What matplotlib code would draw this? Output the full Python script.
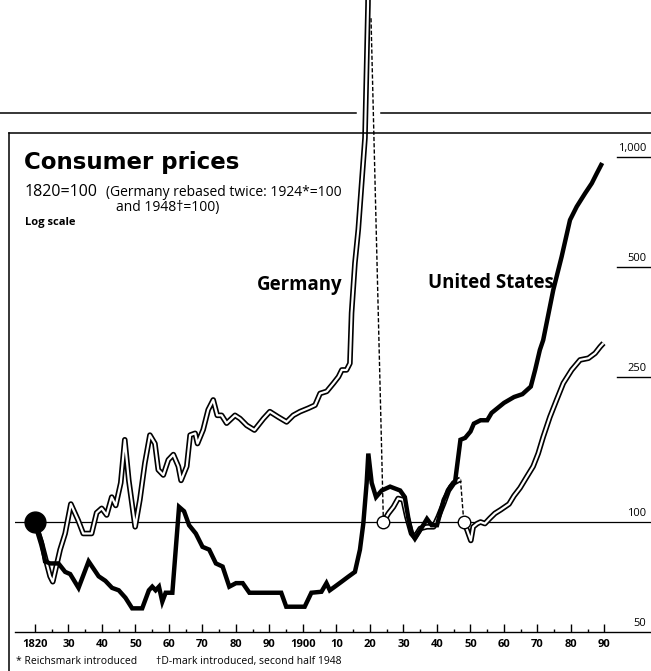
import matplotlib
matplotlib.use("Agg")
import matplotlib.pyplot as plt
import matplotlib.transforms as mtransforms
from matplotlib.lines import Line2D

# --- Datos (1820=100, escala log) ---
us_years = [1820, 1822, 1823, 1824.5, 1827, 1829, 1830.5, 1833, 1836, 1839, 1841, 1843,
            1845, 1847, 1849, 1852, 1854, 1855, 1856, 1857, 1858, 1859, 1861, 1863,
            1864.5, 1866, 1868, 1870, 1872, 1874, 1876, 1878, 1880, 1882, 1884, 1893.5,
            1895, 1900.5, 1902.5, 1905.5, 1907, 1908, 1909.5, 1911.5, 1913.5, 1915.5,
            1917, 1918, 1919, 1919.5, 1920.5, 1921.8, 1923.5, 1926, 1929, 1930.4,
            1931.4, 1932.4, 1933.4, 1935, 1937, 1938.4, 1940, 1942, 1944, 1945.4, 1947,
            1948.4, 1950, 1951, 1953, 1955, 1956.3, 1960, 1963, 1965.5, 1968, 1969.3,
            1970.7, 1971.7, 1972.7, 1974.7, 1977.2, 1979.7, 1981.7, 1984.2, 1986.2,
            1987.7, 1989]
us_values = [100, 88, 78, 77, 77, 73, 72, 66, 78, 71, 69, 66,
             65, 62, 58, 58, 65, 66.5, 65, 66.5, 60.5, 64, 64, 110,
             107, 98, 93, 85.5, 84, 77, 75.5, 66.5, 68, 68, 64, 64,
             58.6, 58.6, 64, 64.4, 68, 65, 66.5, 68.6, 70.8, 73,
             84, 99, 128, 154, 128, 117, 122, 125, 122, 117,
             103, 93, 90, 95, 102, 98, 98, 115, 125, 129, 168,
             170, 177, 186, 190, 190, 199, 212, 220, 224, 235, 261,
             296, 315, 350, 432, 533, 672, 731, 795, 847,
             902, 951]

# Alemania, tramo 1820 - hiperinflacion (se sale del grafico)
de1_years = [1820, 1822, 1824.5, 1825.3, 1827.5, 1829, 1830.7, 1832.9, 1834.4, 1836.9,
             1838.4, 1839.9, 1841.4, 1842.9, 1844.1, 1845.6, 1846.8, 1848, 1849.9,
             1851.3, 1852.8, 1854.3, 1855.8, 1856.8, 1858.3, 1859.8, 1861.3, 1862.8,
             1863.6, 1865.3, 1866.3, 1867.8, 1868.5, 1870.2, 1871.7, 1873.2, 1874.4,
             1875.7, 1877.2, 1879.7, 1881.2, 1883.2, 1885.5, 1888.2, 1890.1, 1892.6,
             1895.1, 1897.1, 1899.1, 1901.6, 1903.6, 1905.1, 1907.1, 1909.1, 1910.6,
             1911.6, 1913, 1914, 1914.5, 1915.5, 1916.5, 1918.5, 1919.4, 1919.6]
de1_values = [100, 87, 71, 68.6, 84, 93, 112, 101, 93, 93,
              106, 109, 104.5, 117, 111, 128, 168, 130, 97,
              115, 145, 173, 164, 139, 134.5, 148, 153, 142,
              130, 142, 173, 175, 164, 179, 203, 216, 196,
              196, 186.5, 196, 192, 184, 178.6, 192, 200.6, 194,
              188, 196, 200.6, 205, 209, 225, 228, 240, 250,
              261, 261, 272, 374, 512, 633, 1128, 2611, 4000]

# Alemania, rebase 1924*=100
de2_years = [1924, 1925.5, 1927, 1928.4, 1929.9, 1931, 1932.4, 1933.4, 1935, 1937,
             1939, 1940.4, 1942, 1943.4, 1945, 1947]
de2_values = [100, 105.6, 110, 116, 115, 103.4, 93, 91, 96, 97,
              97, 103.4, 112.5, 122, 128, 131]

# Alemania, rebase 1948t=100
de3_years = [1948, 1949, 1950.1, 1950.8, 1952, 1953, 1954.3, 1955.8, 1957.3, 1959,
             1961.5, 1963, 1964.8, 1966.8, 1968.7, 1970.2, 1971.7, 1973.7, 1975.7,
             1977.7, 1980.2, 1982.7, 1985.2, 1987.2, 1988.7, 1989.7]
de3_values = [100, 95, 89, 97, 99, 100, 99, 102.4, 105.6, 108,
              112, 118, 124, 133, 142, 154, 171, 194, 216,
              240, 261, 278, 281, 290, 302, 309]

# enlaces discontinuos de los rebases
link1_years = [1920.3, 1924]
link1_values = [2400, 100]
link2_years = [1947, 1948]
link2_values = [131, 100]
rebase_years = [1924, 1948]

decades = list(range(1820, 2000, 10))
decade_labels = ["1820", "30", "40", "50", "60", "70", "80", "90", "1900",
                 "10", "20", "30", "40", "50", "60", "70", "80", "90"]
halves = list(range(1825, 1995, 10))
y_marks = [1000, 500, 250]
y_mark_labels = ["1,000", "500", "250"]

# --- Geometria (pixeles de la figura) ---
W, H = 651, 671
X0_PX, PX_PER_YR = 35, 3.35          # 1820 -> x=35
Y100_PX, PX_PER_DEC = 522, 365       # 100 -> y=522
AX_LEFT, AX_BOTTOM = 15, 632

def fx(px):
    return px / W

def fy(py):
    return 1 - py / H

plt.rcParams['font.family'] = ['Open Sans', 'DejaVu Sans']

fig = plt.figure(figsize=(W / 100, H / 100), dpi=100)
fig.patch.set_facecolor("white")
ax = fig.add_axes([fx(AX_LEFT), (H - AX_BOTTOM) / H, (W - AX_LEFT) / W, AX_BOTTOM / H])
ax.set_facecolor("none")
ax.set_yscale("log")
ax.set_xlim(1820 + (AX_LEFT - X0_PX) / PX_PER_YR, 1820 + (W - X0_PX) / PX_PER_YR)
ax.set_ylim(100 * 10 ** ((Y100_PX - AX_BOTTOM) / PX_PER_DEC), 100 * 10 ** (Y100_PX / PX_PER_DEC))

for s in ["top", "left", "right"]:
    ax.spines[s].set_visible(False)
ax.spines["bottom"].set_linewidth(1.0)
ax.tick_params(axis="y", which="both", left=False, labelleft=False)
ax.set_xticks(decades)
ax.set_xticklabels(decade_labels)
ax.set_xticks(halves, minor=True)
ax.tick_params(axis="x", which="major", direction="in", length=6, width=1, pad=5, labelsize=8)
ax.tick_params(axis="x", which="minor", direction="in", length=2.5, width=1)
for lab in ax.get_xticklabels():
    lab.set_fontweight("bold")

# linea de 100 y marcas de la derecha
ax.axhline(100, color="black", lw=0.9, zorder=1)
ytr = ax.get_yaxis_transform()
for v in y_marks:
    ax.plot([0.947, 1.0], [v, v], transform=ytr, color="black", lw=1.0, clip_on=False)
lab_tr = mtransforms.offset_copy(ytr, fig=fig, x=-2, y=2, units="points")
for v, t in zip(y_marks + [100, 50], y_mark_labels + ["100", "50"]):
    ax.text(0.997, v, t, transform=lab_tr, ha="right", va="bottom", fontsize=8)

# --- Series ---
for yrs, vals in [(de1_years, de1_values), (de2_years, de2_values), (de3_years, de3_values)]:
    ax.plot(yrs, vals, color="black", lw=4.0, solid_capstyle="butt", zorder=3)
    ax.plot(yrs, vals, color="white", lw=1.6, solid_capstyle="butt", zorder=4)
ax.plot(link1_years, link1_values, color="black", lw=1.0, ls=(0, (3, 1.5)), zorder=3)
ax.plot(link2_years, link2_values, color="black", lw=1.0, ls=(0, (3, 1.5)), zorder=3)
ax.plot(us_years, us_values, color="black", lw=3.2, solid_joinstyle="miter", zorder=5)
ax.plot([1820], [100], "o", color="black", ms=15, zorder=6)
ax.plot(rebase_years, [100] * len(rebase_years), "o", ms=9, mfc="white", mec="black",
        mew=1.0, zorder=6)

# --- Marco ---
def fline(x1, y1, x2, y2, lw=1.1):
    fig.add_artist(Line2D([fx(x1), fx(x2)], [fy(y1), fy(y2)], color="black", lw=lw))

fline(9, 133, 9, 671)
fline(9, 133, 651, 133)
fline(0, 113, 356, 113)
fline(381, 113, 651, 113)

# --- Textos ---
fig.text(fx(24), fy(169), "Consumer prices", fontsize=16.5, fontweight="bold", va="baseline",
         family="DejaVu Sans")
fig.text(fx(25), fy(196), "1820=100", fontsize=11.5, va="baseline")
fig.text(fx(106), fy(196), "(Germany rebased twice: 1924*=100", fontsize=10, va="baseline")
fig.text(fx(168), fy(211), "and 1948\u2020=100)", fontsize=10, va="baseline", ha="center")
fig.text(fx(25), fy(225), "Log scale", fontsize=8, fontweight="bold", va="baseline")
fig.text(fx(300), fy(290), "Germany", fontsize=13.4, fontweight="bold", va="baseline",
         ha="center")
fig.text(fx(491), fy(288), "United States", fontsize=13.4, fontweight="bold", va="baseline",
         ha="center")
fig.text(fx(16), fy(664), "* Reichsmark introduced", fontsize=7.5, va="baseline")
fig.text(fx(156), fy(664), "\u2020D-mark introduced, second half 1948", fontsize=7.5,
         va="baseline")

fig.savefig("out.png", dpi=100)
